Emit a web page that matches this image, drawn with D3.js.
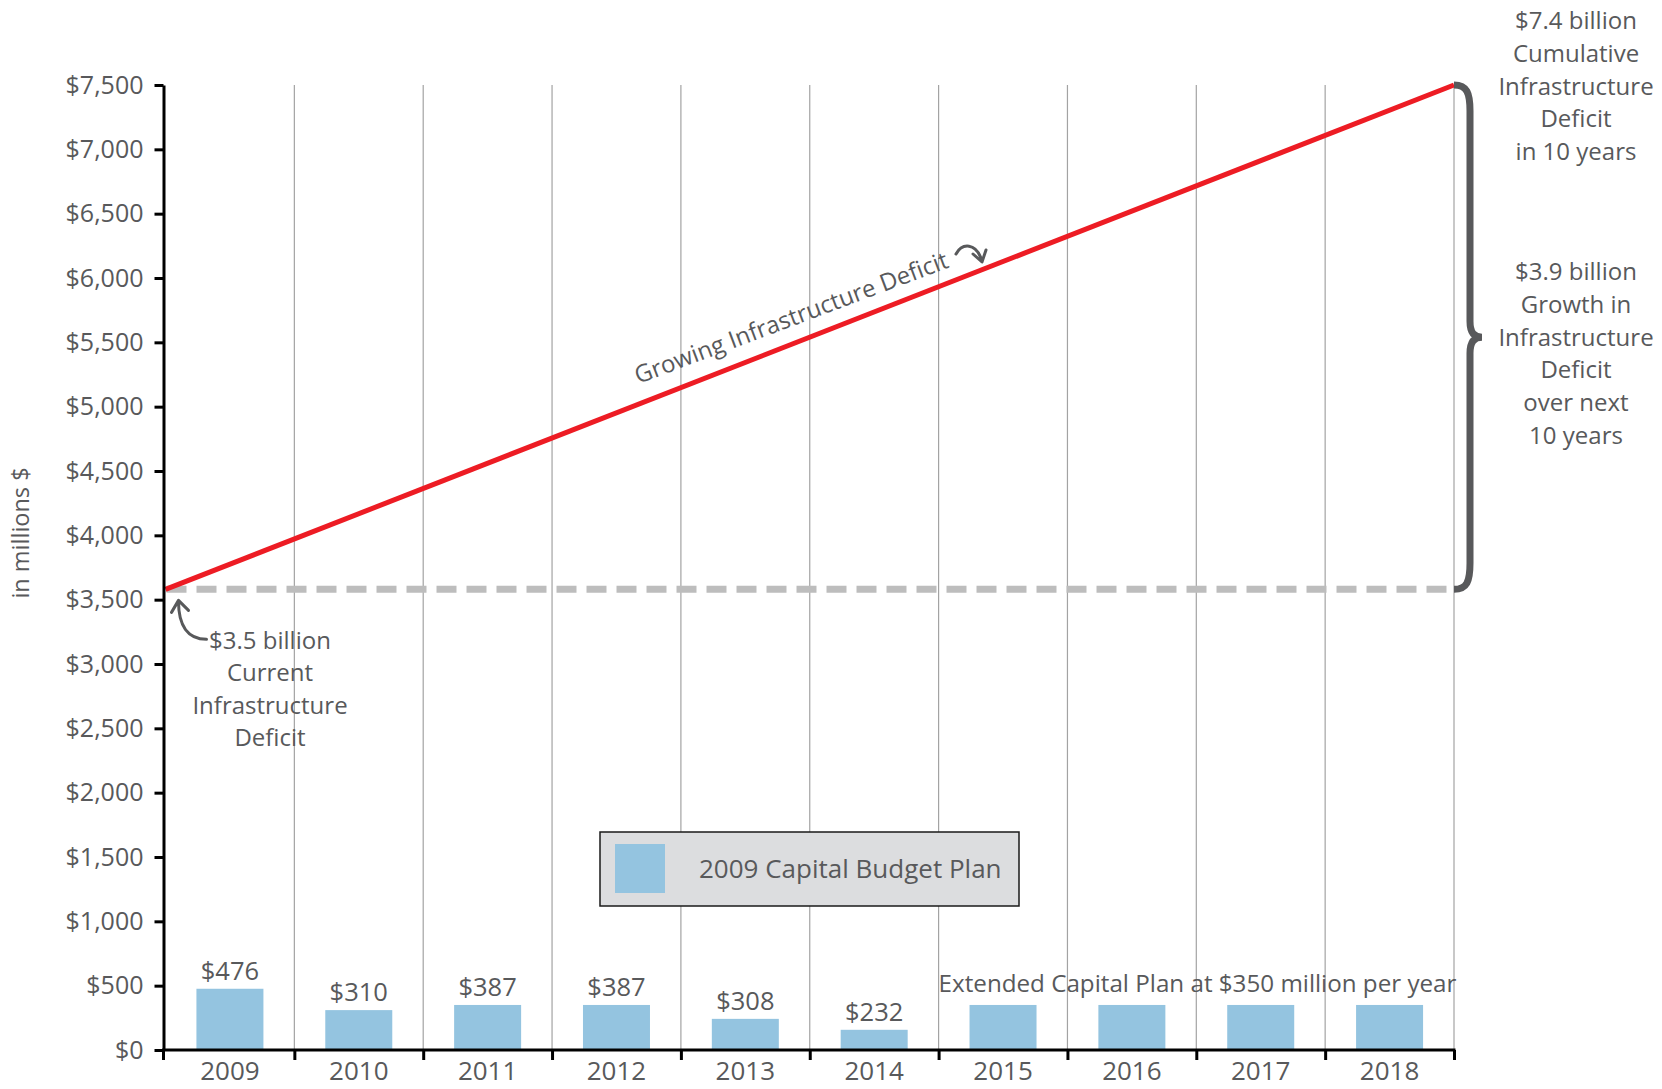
<!DOCTYPE html>
<html>
<head>
<meta charset="utf-8">
<script src="https://cdn.jsdelivr.net/npm/d3@7"></script>
<style>
  body { margin: 0; background: #fff; }
  svg text { font-family: 'Open Sans', sans-serif; fill: #58595b; }
  .axis path, .axis line { stroke: #000; }
</style>
</head>
<body>
<svg id="chart" width="1662" height="1089"></svg>
<script>
// years on the x axis
const years = ['2009', '2010', '2011', '2012', '2013', '2014', '2015', '2016', '2017', '2018'];
// bar heights as drawn (millions $)
const budgetValues = [476, 310, 350, 350, 242, 157, 350, 350, 350, 350];
// labels printed above the bars
const budgetLabels = ['$476', '$310', '$387', '$387', '$308', '$232'];
// infrastructure deficit line, start and end of the period
const deficitYears = [2009, 2019];
const deficitValues = [3580, 7500];
const currentDeficit = 3580;
const yTicks = [0, 500, 1000, 1500, 2000, 2500, 3000, 3500, 4000, 4500, 5000, 5500, 6000, 6500, 7000, 7500];

const svg = d3.select('#chart');
const plotLeft = 163.5, plotRight = 1454, plotTop = 85, plotBottom = 1050;
const textColor = '#58595b';

const y = d3.scaleLinear().domain([0, 7500]).range([plotBottom, plotTop]);
const xBand = d3.scaleBand().domain(years).range([plotLeft + 2, plotRight]).paddingInner(0.48).paddingOuter(0.24);
const xLin = d3.scaleLinear().domain([2009, 2019]).range([plotLeft + 2, plotRight]);

// vertical grid lines between years
svg.append('g')
  .selectAll('line')
  .data(d3.range(2010, 2020))
  .enter().append('line')
    .attr('x1', d => xLin(d)).attr('x2', d => xLin(d))
    .attr('y1', y(7500)).attr('y2', y(0))
    .attr('stroke', '#a3a3a3')
    .attr('stroke-width', 1.2);

// bars
svg.append('g')
  .selectAll('rect')
  .data(budgetValues)
  .enter().append('rect')
    .attr('x', (d, i) => xBand(years[i]))
    .attr('y', d => y(d))
    .attr('width', xBand.bandwidth())
    .attr('height', d => y(0) - y(d))
    .attr('fill', '#94c4e0');

svg.append('g')
  .selectAll('text')
  .data(budgetLabels)
  .enter().append('text')
    .attr('x', (d, i) => xBand(years[i]) + xBand.bandwidth() / 2)
    .attr('y', (d, i) => y(budgetValues[i]) - 9)
    .attr('text-anchor', 'middle')
    .attr('font-size', 25.5)
    .text(d => d);

svg.append('text')
  .attr('x', xLin(2015))
  .attr('y', y(350) - 13)
  .attr('font-size', 24.2)
  .text('Extended Capital Plan at $350 million per year');

// current deficit dashed line
svg.append('line')
  .attr('x1', plotLeft + 3).attr('x2', xLin(2019) - 4)
  .attr('y1', y(currentDeficit)).attr('y2', y(currentDeficit))
  .attr('stroke', '#bdbdbd')
  .attr('stroke-width', 7)
  .attr('stroke-dasharray', '20,10');

// growing deficit line
const line = d3.line()
  .x(d => xLin(d[0]))
  .y(d => y(d[1]));

svg.append('path')
  .datum(deficitYears.map((d, i) => [d, deficitValues[i]]))
  .attr('d', line)
  .attr('fill', 'none')
  .attr('stroke', '#ed1c24')
  .attr('stroke-width', 5);

// axes
svg.append('g')
  .attr('class', 'axis')
  .attr('transform', 'translate(' + plotLeft + ',0)')
  .call(d3.axisLeft(y).tickValues(yTicks).tickSize(9).tickSizeOuter(0).tickPadding(11)
    .tickFormat(d => '$' + d3.format(',')(d)))
  .call(g => g.select('.domain').attr('stroke-width', 3))
  .call(g => g.selectAll('.tick line').attr('stroke-width', 3))
  .call(g => g.selectAll('.tick text').attr('font-size', 25).attr('fill', textColor)
    .attr('font-family', 'Open Sans, sans-serif'));

svg.append('g')
  .attr('class', 'axis')
  .attr('transform', 'translate(0,' + plotBottom + ')')
  .call(d3.axisBottom(xLin).tickValues(d3.range(2010, 2020)).tickSize(10).tickSizeOuter(0).tickFormat(''))
  .call(g => g.select('.domain').attr('stroke-width', 3).attr('d', 'M' + (plotLeft - 1.5) + ',0H' + (plotRight + 1.5)))
  .call(g => g.selectAll('.tick line').attr('stroke-width', 3))
  .call(g => g.append('line').attr('x1', plotLeft).attr('x2', plotLeft).attr('y2', 10)
    .attr('stroke', '#000').attr('stroke-width', 3));

svg.append('g')
  .attr('transform', 'translate(0,' + plotBottom + ')')
  .call(d3.axisBottom(xBand).tickSize(0).tickPadding(12))
  .call(g => g.select('.domain').remove())
  .call(g => g.selectAll('.tick text').attr('font-size', 26).attr('fill', textColor)
    .attr('font-family', 'Open Sans, sans-serif'));

svg.append('text')
  .attr('transform', 'translate(29,533) rotate(-90)')
  .attr('text-anchor', 'middle')
  .attr('font-size', 23.5)
  .text('in millions $');

// legend
const legend = svg.append('g').attr('transform', 'translate(600,832)');
legend.append('rect')
  .attr('width', 419).attr('height', 74)
  .attr('fill', '#dcdddf').attr('stroke', '#1a1a1a').attr('stroke-width', 1.5);
legend.append('rect')
  .attr('x', 15).attr('y', 12).attr('width', 50).attr('height', 49)
  .attr('fill', '#94c4e0');
legend.append('text')
  .attr('x', 99).attr('y', 46)
  .attr('font-size', 26)
  .text('2009 Capital Budget Plan');

// line annotation
const angle = Math.atan2(y(deficitValues[1]) - y(deficitValues[0]), xLin(2019) - xLin(2009)) * 180 / Math.PI;
svg.append('text')
  .attr('transform', 'translate(950,267) rotate(' + (angle + 0.8) + ')')
  .attr('text-anchor', 'end')
  .attr('font-size', 24)
  .text('Growing Infrastructure Deficit');

const arrowStyle = g => g.attr('fill', 'none').attr('stroke', textColor)
  .attr('stroke-width', 3).attr('stroke-linecap', 'round').attr('stroke-linejoin', 'round');

svg.append('path')
  .attr('d', 'M956,254 C962,243 976,242 982,261 M973,254 L982,262 L986,250')
  .call(arrowStyle);

// current deficit annotation
const ax = plotLeft, ay = y(currentDeficit);
svg.append('path')
  .attr('d', 'M' + (ax + 43) + ',' + (ay + 50) + ' C' + (ax + 24) + ',' + (ay + 50) + ' ' + (ax + 15) + ',' + (ay + 36) + ' ' + (ax + 15) + ',' + (ay + 12) +
    ' M' + (ax + 8) + ',' + (ay + 23) + ' L' + (ax + 15) + ',' + (ay + 11) + ' L' + (ax + 25) + ',' + (ay + 21))
  .call(arrowStyle);

const leftNote = ['$3.5 billion', 'Current', 'Infrastructure', 'Deficit'];
svg.append('text')
  .attr('x', 270).attr('y', 649)
  .attr('text-anchor', 'middle')
  .attr('font-size', 24)
  .selectAll('tspan')
  .data(leftNote)
  .enter().append('tspan')
    .attr('x', 270)
    .attr('dy', (d, i) => i === 0 ? 0 : 32.3)
    .text(d => d);

// brace on the right
const bx = xLin(2019), bt = y(deficitValues[1]), bb = y(currentDeficit), bm = (bt + bb) / 2;
svg.append('path')
  .attr('d', 'M' + bx + ',' + bt +
    ' C' + (bx + 13) + ',' + bt + ' ' + (bx + 16) + ',' + (bt + 8) + ' ' + (bx + 16) + ',' + (bt + 26) +
    ' L' + (bx + 16) + ',' + (bm - 16) +
    ' C' + (bx + 16) + ',' + (bm - 5) + ' ' + (bx + 20) + ',' + bm + ' ' + (bx + 28) + ',' + bm +
    ' C' + (bx + 20) + ',' + bm + ' ' + (bx + 16) + ',' + (bm + 5) + ' ' + (bx + 16) + ',' + (bm + 16) +
    ' L' + (bx + 16) + ',' + (bb - 26) +
    ' C' + (bx + 16) + ',' + (bb - 8) + ' ' + (bx + 13) + ',' + bb + ' ' + bx + ',' + bb)
  .attr('fill', 'none')
  .attr('stroke', textColor)
  .attr('stroke-width', 7);

const topNote = ['$7.4 billion', 'Cumulative', 'Infrastructure', 'Deficit', 'in 10 years'];
const growthNote = ['$3.9 billion', 'Growth in', 'Infrastructure', 'Deficit', 'over next', '10 years'];

function noteBlock(lines, x0, y0) {
  svg.append('text')
    .attr('x', x0).attr('y', y0)
    .attr('text-anchor', 'middle')
    .attr('font-size', 24)
    .selectAll('tspan')
    .data(lines)
    .enter().append('tspan')
      .attr('x', x0)
      .attr('dy', (d, i) => i === 0 ? 0 : 32.8)
      .text(d => d);
}
noteBlock(topNote, 1576, 29);
noteBlock(growthNote, 1576, 280);
</script>
</body>
</html>
